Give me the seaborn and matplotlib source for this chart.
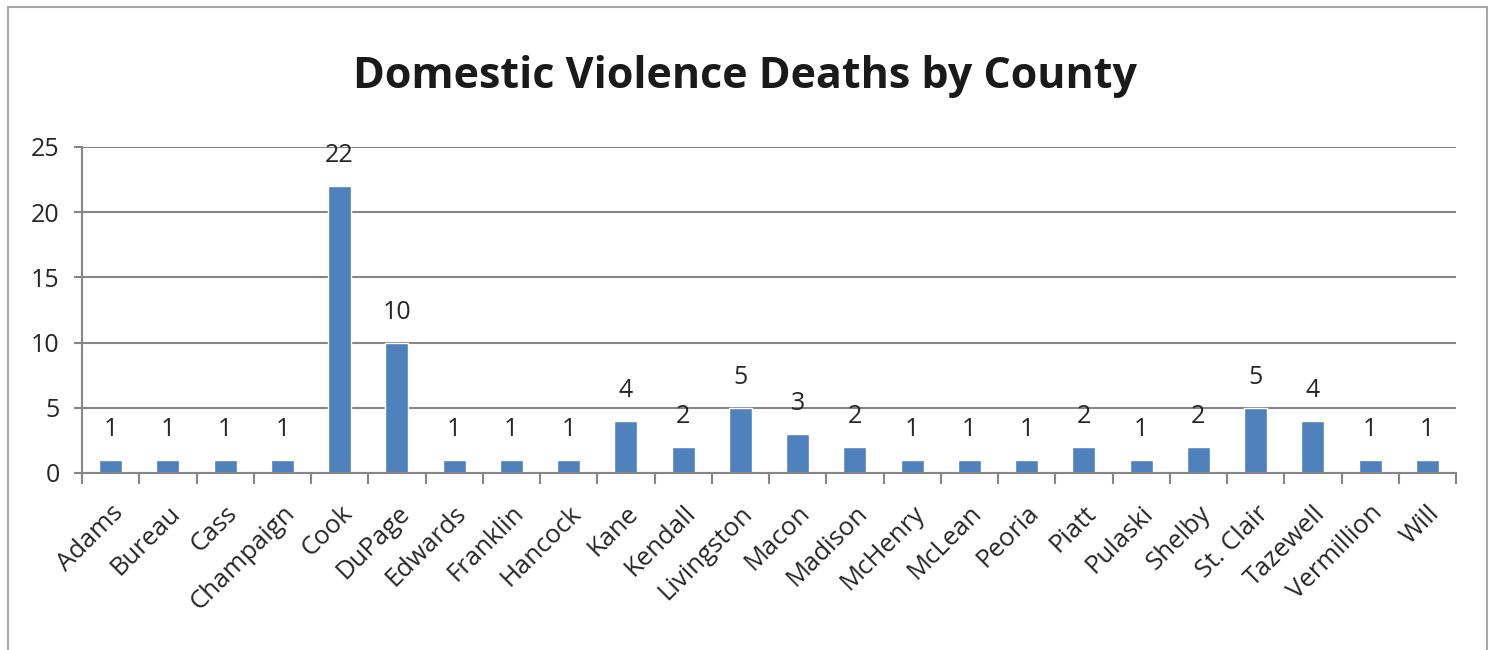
import seaborn as sns
import pandas as pd
import matplotlib.pyplot as plt
from matplotlib.patches import Rectangle
from matplotlib.ticker import FixedLocator

counties = ["Adams", "Bureau", "Cass", "Champaign", "Cook", "DuPage", "Edwards",
            "Franklin", "Hancock", "Kane", "Kendall", "Livingston", "Macon",
            "Madison", "McHenry", "McLean", "Peoria", "Piatt", "Pulaski",
            "Shelby", "St. Clair", "Tazewell", "Vermillion", "Will"]
deaths = [1, 1, 1, 1, 22, 10, 1, 1, 1, 4, 2, 5, 3, 2, 1, 1, 1, 2, 1, 2, 5, 4, 1, 1]
y_ticks = [0, 5, 10, 15, 20, 25]

sns.set_style("white")
plt.rcParams["font.family"] = ["Open Sans", "DejaVu Sans"]

df = pd.DataFrame({"county": counties, "deaths": deaths})

fig = plt.figure(figsize=(14.94, 6.5), dpi=100)
fig.patches.append(Rectangle((8 / 1494, -0.05), 1479 / 1494, 1.05 - 7 / 650,
                             transform=fig.transFigure, fill=False,
                             edgecolor="#a6a6a6", linewidth=1.5))
ax = fig.add_axes([82 / 1494, 1 - 473 / 650, (1456 - 82) / 1494, (473 - 147) / 650])

sns.barplot(data=df, x="county", y="deaths", color="#4F81BD", width=0.4,
            saturation=1, ax=ax)
ax.bar_label(ax.containers[0], padding=13, fontsize=18, color="#262626")

ax.set_ylim(0, 25)
ax.set_xlim(-0.5, len(counties) - 0.5)
ax.set_yticks(y_ticks)
ax.yaxis.grid(True, color="#868686", linewidth=1.5)
ax.set_axisbelow(True)
for s in ["top", "right"]:
    ax.spines[s].set_visible(False)
for s in ["left", "bottom"]:
    ax.spines[s].set_color("#868686")
    ax.spines[s].set_linewidth(1.5)

ax.tick_params(axis="y", length=6, width=1.5, color="#868686", labelsize=18,
               labelcolor="#262626", pad=10, left=True)
ax.xaxis.set_minor_locator(FixedLocator([i - 0.5 for i in range(len(counties) + 1)]))
ax.tick_params(axis="x", which="major", length=0, pad=20, labelsize=18.5,
               labelcolor="#262626")
ax.tick_params(axis="x", which="minor", length=8, width=1.5, color="#868686",
               bottom=True)
plt.setp(ax.get_xticklabels(), rotation=45, ha="right", rotation_mode="anchor")
ax.set_xlabel("")
ax.set_ylabel("")

fig.text(0.4985, 1 - 76 / 650, "Domestic Violence Deaths by County", ha="center",
         va="center", fontsize=31, fontweight="bold", color="#1a1a1a")

plt.savefig("out.png", dpi=100)
